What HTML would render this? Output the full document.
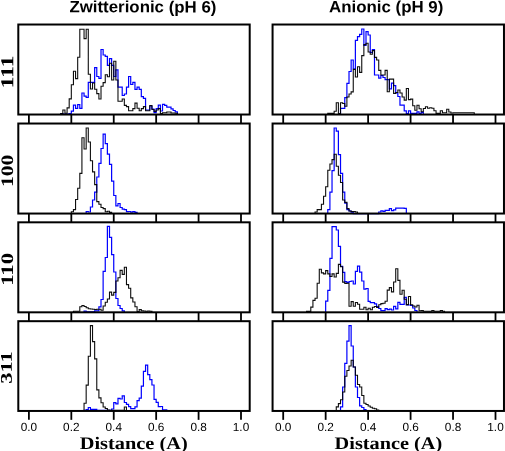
<!DOCTYPE html>
<html><head><meta charset="utf-8"><style>
html,body{margin:0;padding:0;background:#fff;}
body{width:505px;height:451px;overflow:hidden;position:relative;}
svg{position:absolute;left:0;top:0;will-change:transform;}
.tl{font-family:"Liberation Sans",sans-serif;font-size:11.8px;text-anchor:middle;fill:#000;}
.ttl{font-family:"Liberation Sans",sans-serif;font-weight:bold;font-size:16.4px;fill:#000;}
.xl{font-family:"Liberation Serif",serif;font-weight:bold;font-size:17.7px;fill:#000;}
.yl{font-family:"Liberation Serif",serif;font-weight:bold;font-size:18px;fill:#000;}
</style></head><body>
<svg width="505" height="451" viewBox="0 0 505 451">
<path d="M60.72 114.52 L60.72 113.5 L62.84 113.5 L62.84 114 L64.96 114 L64.96 114 L67.08 114 L67.08 114 L69.2 114 L69.2 113.5 L71.32 113.5 L71.32 111.1 L73.44 111.1 L73.44 105.2 L75.56 105.2 L75.56 108.4 L77.68 108.4 L77.68 104.7 L79.8 104.7 L79.8 108.4 L81.92 108.4 L81.92 93 L84.05 93 L84.05 96.2 L86.17 96.2 L86.17 97.3 L88.29 97.3 L88.29 82.4 L90.41 82.4 L90.41 82.4 L92.53 82.4 L92.53 82.4 L94.65 82.4 L94.65 67.6 L96.77 67.6 L96.77 76.5 L98.89 76.5 L98.89 78.3 L101.01 78.3 L101.01 49.5 L103.14 49.5 L103.13 55 L105.26 55 L105.26 56.3 L107.38 56.3 L107.38 65.3 L109.5 65.3 L109.5 58.6 L111.62 58.6 L111.62 65.3 L113.74 65.3 L113.74 76.5 L115.86 76.5 L115.86 69.8 L117.98 69.8 L117.98 87.1 L120.1 87.1 L120.1 87.1 L122.22 87.1 L122.22 95.5 L124.34 95.5 L124.34 94 L126.47 94 L126.47 87.1 L128.59 87.1 L128.59 76.5 L130.71 76.5 L130.71 84.5 L132.83 84.5 L132.83 82.4 L134.95 82.4 L134.95 89.3 L137.07 89.3 L137.07 87.1 L139.19 87.1 L139.19 89.3 L141.31 89.3 L141.31 96.7 L143.43 96.7 L143.43 98.3 L145.56 98.3 L145.56 110 L147.68 110 L147.68 110 L149.8 110 L149.8 106 L151.92 106 L151.92 109 L154.04 109 L154.04 112.7 L156.16 112.7 L156.16 108.6 L158.28 108.6 L158.28 105.1 L160.4 105.1 L160.4 111 L162.52 111 L162.52 104.4 L164.64 104.4 L164.64 105.4 L166.77 105.4 L166.77 107.2 L168.89 107.2 L168.89 107.2 L171.01 107.2 L171.01 108.8 L173.13 108.8 L173.13 110.5 L175.25 110.5 L175.25 111.9 L177.37 111.9 L177.37 114.52" fill="none" stroke="#0000ff" stroke-width="1.2" stroke-opacity="1.0"/>
<path d="M86.17 213.54 L86.17 211.5 L88.29 211.5 L88.29 212 L90.41 212 L90.41 207 L92.53 207 L92.53 200 L94.65 200 L94.65 192.1 L96.77 192.1 L96.77 177 L98.89 177 L98.89 163.3 L101.01 163.3 L101.01 148.5 L103.14 148.5 L103.13 134.2 L105.26 134.2 L105.26 143.6 L107.38 143.6 L107.38 154.1 L109.5 154.1 L109.5 164.3 L111.62 164.3 L111.62 181.2 L113.74 181.2 L113.74 195.5 L115.86 195.5 L115.86 205.9 L117.98 205.9 L117.98 203.5 L120.1 203.5 L120.1 207.5 L122.22 207.5 L122.22 209.1 L124.34 209.1 L124.34 209.6 L126.47 209.6 L126.47 211.7 L128.59 211.7 L128.59 211.5 L130.71 211.5 L130.71 212.2 L132.83 212.2 L132.83 211.7 L134.95 211.7 L134.95 212.3 L137.07 212.3 L137.07 213.54" fill="none" stroke="#0000ff" stroke-width="1.2" stroke-opacity="1.0"/>
<path d="M84.05 312.32 L84.05 311.2 L86.17 311.2 L86.17 311.8 L88.29 311.8 L88.29 311.8 L90.41 311.8 L90.41 311.8 L92.53 311.8 L92.53 311.8 L94.65 311.8 L94.65 310.9 L96.77 310.9 L96.77 310.9 L98.89 310.9 L98.89 306.8 L101.01 306.8 L101.01 299.5 L103.14 299.5 L103.13 271.4 L105.26 271.4 L105.26 257.5 L107.38 257.5 L107.38 226.3 L109.5 226.3 L109.5 237.3 L111.62 237.3 L111.62 254.7 L113.74 254.7 L113.74 272 L115.86 272 L115.86 298.5 L117.98 298.5 L117.98 305.5 L120.1 305.5 L120.1 308.5 L122.22 308.5 L122.22 310.9 L124.34 310.9 L124.34 312.32" fill="none" stroke="#0000ff" stroke-width="1.2" stroke-opacity="1.0"/>
<path d="M84.05 410.95 L84.05 410.4 L86.17 410.4 L86.17 409.5 L88.29 409.5 L88.29 407.5 L90.41 407.5 L90.41 409.4 L92.53 409.4 L92.53 409.4 L94.65 409.4 L94.65 409.4 L96.77 409.4 L96.77 410.4 L98.89 410.4 L98.89 410.4 L101.01 410.4 L101.01 410.4 L103.14 410.4 L103.13 410.4 L105.26 410.4 L105.26 410.4 L107.38 410.4 L107.38 410.4 L109.5 410.4 L109.5 410.4 L111.62 410.4 L111.62 409 L113.74 409 L113.74 402.7 L115.86 402.7 L115.86 403.8 L117.98 403.8 L117.98 398.4 L120.1 398.4 L120.1 399 L122.22 399 L122.22 395.8 L124.34 395.8 L124.34 402.5 L126.47 402.5 L126.47 404.3 L128.59 404.3 L128.59 406.6 L130.71 406.6 L130.71 408.6 L132.83 408.6 L132.83 408.6 L134.95 408.6 L134.95 406.8 L137.07 406.8 L137.07 400.6 L139.19 400.6 L139.19 398.2 L141.31 398.2 L141.31 386.1 L143.43 386.1 L143.43 371.3 L145.56 371.3 L145.56 365.2 L147.68 365.2 L147.68 374.7 L149.8 374.7 L149.8 379.7 L151.92 379.7 L151.92 385 L154.04 385 L154.04 399.3 L156.16 399.3 L156.16 402.4 L158.28 402.4 L158.28 406.7 L160.4 406.7 L160.4 406.5 L162.52 406.5 L162.52 409.9 L164.64 409.9 L164.64 409.9 L166.77 409.9 L166.77 410.95" fill="none" stroke="#0000ff" stroke-width="1.2" stroke-opacity="1.0"/>
<path d="M340.52 114.52 L340.52 108.3 L342.64 108.3 L342.64 108.3 L344.77 108.3 L344.77 97.6 L346.89 97.6 L346.89 83.3 L349.01 83.3 L349.01 71.5 L351.14 71.5 L351.14 60 L353.26 60 L353.26 69 L355.38 69 L355.38 40.3 L357.5 40.3 L357.5 36.7 L359.63 36.7 L359.63 34.3 L361.75 34.3 L361.75 29 L363.87 29 L363.87 45.3 L366 45.3 L366 31.7 L368.12 31.7 L368.12 35 L370.24 35 L370.24 52.5 L372.37 52.5 L372.37 49.6 L374.49 49.6 L374.49 75 L376.61 75 L376.61 75 L378.73 75 L378.74 78.1 L380.86 78.1 L380.86 75.5 L382.98 75.5 L382.98 77.5 L385.1 77.5 L385.1 79.6 L387.23 79.6 L387.23 79.6 L389.35 79.6 L389.35 88.8 L391.47 88.8 L391.47 83.2 L393.6 83.2 L393.6 85.7 L395.72 85.7 L395.72 93 L397.84 93 L397.84 96.5 L399.96 96.5 L399.97 105.2 L402.09 105.2 L402.09 105.2 L404.21 105.2 L404.21 110.8 L406.33 110.8 L406.33 113.5 L408.46 113.5 L408.46 110.8 L410.58 110.8 L410.58 113.4 L412.7 113.4 L412.7 113.4 L414.83 113.4 L414.83 113.4 L416.95 113.4 L416.95 111.8 L419.07 111.8 L419.07 113.6 L421.19 113.6 L421.19 112.3 L423.32 112.3 L423.32 114.52" fill="none" stroke="#0000ff" stroke-width="1.2" stroke-opacity="1.0"/>
<path d="M327.78 213.54 L327.78 209.6 L329.91 209.6 L329.91 192.1 L332.03 192.1 L332.03 170.6 L334.15 170.6 L334.15 128 L336.27 128 L336.27 131.2 L338.4 131.2 L338.4 154.7 L340.52 154.7 L340.52 173.3 L342.64 173.3 L342.64 192.1 L344.77 192.1 L344.77 203.2 L346.89 203.2 L346.89 209.6 L349.01 209.6 L349.01 211 L351.14 211 L351.14 212.2 L353.26 212.2 L353.26 213.54 L355.38 213.54 L355.38 213.54 L357.5 213.54 L357.5 213.54 L359.63 213.54 L359.63 213.54 L361.75 213.54 L361.75 213.54 L363.87 213.54 L363.87 213.54 L366 213.54 L366 213.54 L368.12 213.54 L368.12 213.54 L370.24 213.54 L370.24 213.54 L372.37 213.54 L372.37 213.54 L374.49 213.54 L374.49 213.54 L376.61 213.54 L376.61 213.54 L378.73 213.54 L378.74 212 L380.86 212 L380.86 210.9 L382.98 210.9 L382.98 211.3 L385.1 211.3 L385.1 210.4 L387.23 210.4 L387.23 210.4 L389.35 210.4 L389.35 208.6 L391.47 208.6 L391.47 210.6 L393.6 210.6 L393.6 209.8 L395.72 209.8 L395.72 208.2 L397.84 208.2 L397.84 208.2 L399.96 208.2 L399.97 208.2 L402.09 208.2 L402.09 208.2 L404.21 208.2 L404.21 208.3 L406.33 208.3 L406.33 213.54" fill="none" stroke="#0000ff" stroke-width="1.2" stroke-opacity="1.0"/>
<path d="M325.66 312.32 L325.66 301.2 L327.78 301.2 L327.78 290.3 L329.91 290.3 L329.91 258.4 L332.03 258.4 L332.03 226.6 L334.15 226.6 L334.15 226.6 L336.27 226.6 L336.27 230 L338.4 230 L338.4 246.3 L340.52 246.3 L340.52 266.3 L342.64 266.3 L342.64 272.4 L344.77 272.4 L344.77 281.6 L346.89 281.6 L346.89 282.5 L349.01 282.5 L349.01 281.5 L351.14 281.5 L351.14 281 L353.26 281 L353.26 284 L355.38 284 L355.38 271.3 L357.5 271.3 L357.5 266.2 L359.63 266.2 L359.63 272.1 L361.75 272.1 L361.75 281 L363.87 281 L363.87 289.2 L366 289.2 L366 288.5 L368.12 288.5 L368.12 301.3 L370.24 301.3 L370.24 302.6 L372.37 302.6 L372.37 302.6 L374.49 302.6 L374.49 303.8 L376.61 303.8 L376.61 306.7 L378.73 306.7 L378.74 308.5 L380.86 308.5 L380.86 310.7 L382.98 310.7 L382.98 310.7 L385.1 310.7 L385.1 308.7 L387.23 308.7 L387.23 309.7 L389.35 309.7 L389.35 309.2 L391.47 309.2 L391.47 310 L393.6 310 L393.6 306.3 L395.72 306.3 L395.72 308.8 L397.84 308.8 L397.84 302.3 L399.96 302.3 L399.97 304.3 L402.09 304.3 L402.09 304.3 L404.21 304.3 L404.21 297.4 L406.33 297.4 L406.33 304.8 L408.46 304.8 L408.46 305 L410.58 305 L410.58 305.5 L412.7 305.5 L412.7 308 L414.83 308 L414.83 310.5 L416.95 310.5 L416.95 312.32" fill="none" stroke="#0000ff" stroke-width="1.2" stroke-opacity="1.0"/>
<path d="M340.52 410.95 L340.52 406.9 L342.64 406.9 L342.64 387 L344.77 387 L344.77 363.3 L346.89 363.3 L346.89 341.2 L349.01 341.2 L349.01 325.6 L351.14 325.6 L351.14 346 L353.26 346 L353.26 367 L355.38 367 L355.38 387 L357.5 387 L357.5 397.5 L359.63 397.5 L359.63 405.8 L361.75 405.8 L361.75 407.5 L363.87 407.5 L363.87 409.5 L366 409.5 L366 410.95" fill="none" stroke="#0000ff" stroke-width="1.2" stroke-opacity="1.0"/>
<path d="M60.72 114.52 L60.72 113.5 L62.84 113.5 L62.84 110 L64.96 110 L64.96 113.2 L67.08 113.2 L67.08 107.9 L69.2 107.9 L69.2 98.9 L71.32 98.9 L71.32 84.8 L73.44 84.8 L73.44 71.2 L75.56 71.2 L75.56 78.6 L77.68 78.6 L77.68 57.2 L79.8 57.2 L79.8 29.3 L81.92 29.3 L81.92 29.3 L84.05 29.3 L84.05 38.6 L86.17 38.6 L86.17 29.3 L88.29 29.3 L88.29 74.3 L90.41 74.3 L90.41 89 L92.53 89 L92.53 83 L94.65 83 L94.65 89.3 L96.77 89.3 L96.77 93.6 L98.89 93.6 L98.89 99 L101.01 99 L101.01 86.3 L103.14 86.3 L103.13 82.6 L105.26 82.6 L105.26 74.7 L107.38 74.7 L107.38 76.7 L109.5 76.7 L109.5 63.3 L111.62 63.3 L111.62 80 L113.74 80 L113.74 61.2 L115.86 61.2 L115.86 80 L117.98 80 L117.98 101.3 L120.1 101.3 L120.1 101.3 L122.22 101.3 L122.22 99 L124.34 99 L124.34 105.4 L126.47 105.4 L126.47 106.6 L128.59 106.6 L128.59 110.7 L130.71 110.7 L130.71 110.7 L132.83 110.7 L132.83 108.6 L134.95 108.6 L134.95 103.1 L137.07 103.1 L137.07 108.3 L139.19 108.3 L139.19 110.7 L141.31 110.7 L141.31 108.6 L143.43 108.6 L143.43 106.6 L145.56 106.6 L145.56 110.7 L147.68 110.7 L147.68 110.7 L149.8 110.7 L149.8 105.5 L151.92 105.5 L151.92 109.5 L154.04 109.5 L154.04 111.4 L156.16 111.4 L156.16 110 L158.28 110 L158.28 108.6 L160.4 108.6 L160.4 113.5 L162.52 113.5 L162.52 112.7 L164.64 112.7 L164.64 112.7 L166.77 112.7 L166.77 112 L168.89 112 L168.89 112 L171.01 112 L171.01 113 L173.13 113 L173.13 113 L175.25 113 L175.25 113.2 L177.37 113.2 L177.37 114.52" fill="none" stroke="#000" stroke-width="1.1" stroke-opacity="0.95"/>
<path d="M71.32 213.54 L71.32 211.7 L73.44 211.7 L73.44 209.6 L75.56 209.6 L75.56 199.5 L77.68 199.5 L77.68 188.3 L79.8 188.3 L79.8 173.4 L81.92 173.4 L81.92 137.8 L84.05 137.8 L84.05 149 L86.17 149 L86.17 128 L88.29 128 L88.29 142 L90.41 142 L90.41 160.8 L92.53 160.8 L92.53 171.9 L94.65 171.9 L94.65 184.6 L96.77 184.6 L96.77 201.6 L98.89 201.6 L98.89 204.3 L101.01 204.3 L101.01 207.5 L103.14 207.5 L103.13 208.6 L105.26 208.6 L105.26 211.8 L107.38 211.8 L107.38 211.2 L109.5 211.2 L109.5 212.4 L111.62 212.4 L111.62 213.54" fill="none" stroke="#000" stroke-width="1.1" stroke-opacity="0.95"/>
<path d="M73.44 312.32 L73.44 311.3 L75.56 311.3 L75.56 311.3 L77.68 311.3 L77.68 311.3 L79.8 311.3 L79.8 306.7 L81.92 306.7 L81.92 305.5 L84.05 305.5 L84.05 306.5 L86.17 306.5 L86.17 307.7 L88.29 307.7 L88.29 308.7 L90.41 308.7 L90.41 309 L92.53 309 L92.53 309.3 L94.65 309.3 L94.65 309.5 L96.77 309.5 L96.77 309.3 L98.89 309.3 L98.89 309.3 L101.01 309.3 L101.01 310.2 L103.14 310.2 L103.13 306 L105.26 306 L105.26 302.2 L107.38 302.2 L107.38 299 L109.5 299 L109.5 292.1 L111.62 292.1 L111.62 295.1 L113.74 295.1 L113.74 292.4 L115.86 292.4 L115.86 281 L117.98 281 L117.98 277.8 L120.1 277.8 L120.1 270.4 L122.22 270.4 L122.22 274.4 L124.34 274.4 L124.34 267.2 L126.47 267.2 L126.47 284.6 L128.59 284.6 L128.59 288.3 L130.71 288.3 L130.71 297.9 L132.83 297.9 L132.83 302 L134.95 302 L134.95 306.8 L137.07 306.8 L137.07 311.5 L139.19 311.5 L139.19 309.6 L141.31 309.6 L141.31 310.8 L143.43 310.8 L143.43 311 L145.56 311 L145.56 311.2 L147.68 311.2 L147.68 311 L149.8 311 L149.8 311.3 L151.92 311.3 L151.92 312.32" fill="none" stroke="#000" stroke-width="1.1" stroke-opacity="0.95"/>
<path d="M84.05 410.95 L84.05 403.2 L86.17 403.2 L86.17 385.1 L88.29 385.1 L88.29 356.2 L90.41 356.2 L90.41 325.6 L92.53 325.6 L92.53 341.6 L94.65 341.6 L94.65 358.9 L96.77 358.9 L96.77 389.9 L98.89 389.9 L98.89 397.9 L101.01 397.9 L101.01 402.7 L103.14 402.7 L103.13 407 L105.26 407 L105.26 408.5 L107.38 408.5 L107.38 410 L109.5 410 L109.5 410.3 L111.62 410.3 L111.62 410.4 L113.74 410.4 L113.74 410.4 L115.86 410.4 L115.86 410.4 L117.98 410.4 L117.98 410.4 L120.1 410.4 L120.1 410.4 L122.22 410.4 L122.22 410.4 L124.34 410.4 L124.34 407 L126.47 407 L126.47 410.95" fill="none" stroke="#000" stroke-width="1.1" stroke-opacity="0.95"/>
<path d="M327.78 114.52 L327.78 113.4 L329.91 113.4 L329.91 113.4 L332.03 113.4 L332.03 113.4 L334.15 113.4 L334.15 111.3 L336.27 111.3 L336.27 102.7 L338.4 102.7 L338.4 113.5 L340.52 113.5 L340.52 102.7 L342.64 102.7 L342.64 103.5 L344.77 103.5 L344.77 106.2 L346.89 106.2 L346.89 97 L349.01 97 L349.01 94 L351.14 94 L351.14 91.9 L353.26 91.9 L353.26 69.4 L355.38 69.4 L355.38 77 L357.5 77 L357.5 66.8 L359.63 66.8 L359.63 72.4 L361.75 72.4 L361.75 55.6 L363.87 55.6 L363.87 44.6 L366 44.6 L366 43.3 L368.12 43.3 L368.12 52 L370.24 52 L370.24 54.3 L372.37 54.3 L372.37 50.6 L374.49 50.6 L374.49 57.4 L376.61 57.4 L376.61 60 L378.73 60 L378.74 70.4 L380.86 70.4 L380.86 75 L382.98 75 L382.98 75 L385.1 75 L385.1 70.4 L387.23 70.4 L387.23 91.8 L389.35 91.8 L389.35 79.1 L391.47 79.1 L391.47 79.1 L393.6 79.1 L393.6 93.4 L395.72 93.4 L395.72 92.5 L397.84 92.5 L397.84 90 L399.96 90 L399.97 93 L402.09 93 L402.09 97 L404.21 97 L404.21 100.1 L406.33 100.1 L406.33 88.5 L408.46 88.5 L408.46 99.6 L410.58 99.6 L410.58 99.1 L412.7 99.1 L412.7 105.7 L414.83 105.7 L414.83 110.3 L416.95 110.3 L416.95 105.2 L419.07 105.2 L419.07 108.8 L421.19 108.8 L421.19 111.8 L423.32 111.8 L423.32 108.5 L425.44 108.5 L425.44 106.7 L427.56 106.7 L427.56 108.3 L429.69 108.3 L429.69 107.8 L431.81 107.8 L431.81 108.3 L433.93 108.3 L433.93 110.8 L436.06 110.8 L436.06 113.4 L438.18 113.4 L438.18 113.4 L440.3 113.4 L440.3 110.8 L442.43 110.8 L442.43 112.7 L444.55 112.7 L444.55 112.7 L446.67 112.7 L446.67 109.2 L448.79 109.2 L448.79 112 L450.92 112 L450.92 113 L453.04 113 L453.04 112.8 L455.16 112.8 L455.16 112.8 L457.29 112.8 L457.29 112.8 L459.41 112.8 L459.41 112.8 L461.53 112.8 L461.53 112.8 L463.66 112.8 L463.65 112.8 L465.78 112.8 L465.78 112.8 L467.9 112.8 L467.9 112.8 L470.02 112.8 L470.02 112.8 L472.15 112.8 L472.15 112.8 L474.27 112.8 L474.27 114.52" fill="none" stroke="#000" stroke-width="1.1" stroke-opacity="0.95"/>
<path d="M315.05 213.54 L315.05 212 L317.17 212 L317.17 209.6 L319.29 209.6 L319.29 209.6 L321.41 209.6 L321.41 204.3 L323.54 204.3 L323.54 196.3 L325.66 196.3 L325.66 186.7 L327.78 186.7 L327.78 170.3 L329.91 170.3 L329.91 164 L332.03 164 L332.03 159.6 L334.15 159.6 L334.15 154.3 L336.27 154.3 L336.27 166.3 L338.4 166.3 L338.4 175.3 L340.52 175.3 L340.52 182.5 L342.64 182.5 L342.64 200 L344.77 200 L344.77 202.4 L346.89 202.4 L346.89 208.6 L349.01 208.6 L349.01 211 L351.14 211 L351.14 211.5 L353.26 211.5 L353.26 211.5 L355.38 211.5 L355.38 212 L357.5 212 L357.5 213.54" fill="none" stroke="#000" stroke-width="1.1" stroke-opacity="0.95"/>
<path d="M306.55 312.32 L306.55 311.4 L308.68 311.4 L308.68 311.4 L310.8 311.4 L310.8 307.1 L312.92 307.1 L312.92 300.4 L315.04 300.4 L315.05 298.2 L317.17 298.2 L317.17 283.3 L319.29 283.3 L319.29 269.3 L321.41 269.3 L321.41 272.9 L323.54 272.9 L323.54 273.9 L325.66 273.9 L325.66 270.6 L327.78 270.6 L327.78 273.9 L329.91 273.9 L329.91 276.5 L332.03 276.5 L332.03 273.9 L334.15 273.9 L334.15 277 L336.27 277 L336.27 273.4 L338.4 273.4 L338.4 264.4 L340.52 264.4 L340.52 266.8 L342.64 266.8 L342.64 282.1 L344.77 282.1 L344.77 283.4 L346.89 283.4 L346.89 283.3 L349.01 283.3 L349.01 306.2 L351.14 306.2 L351.14 301.6 L353.26 301.6 L353.26 306.2 L355.38 306.2 L355.38 302.5 L357.5 302.5 L357.5 304.3 L359.63 304.3 L359.63 309.2 L361.75 309.2 L361.75 309.2 L363.87 309.2 L363.87 307.2 L366 307.2 L366 309.7 L368.12 309.7 L368.12 308.2 L370.24 308.2 L370.24 309.7 L372.37 309.7 L372.37 307.2 L374.49 307.2 L374.49 306.5 L376.61 306.5 L376.61 307.5 L378.73 307.5 L378.74 304.8 L380.86 304.8 L380.86 303.6 L382.98 303.6 L382.98 303.3 L385.1 303.3 L385.1 301.3 L387.23 301.3 L387.23 290.1 L389.35 290.1 L389.35 287.6 L391.47 287.6 L391.47 291.9 L393.6 291.9 L393.6 282 L395.72 282 L395.72 268.7 L397.84 268.7 L397.84 280.4 L399.96 280.4 L399.97 294.2 L402.09 294.2 L402.09 290.3 L404.21 290.3 L404.21 299.3 L406.33 299.3 L406.33 304.6 L408.46 304.6 L408.46 296.5 L410.58 296.5 L410.58 304.8 L412.7 304.8 L412.7 306 L414.83 306 L414.83 307 L416.95 307 L416.95 305.3 L419.07 305.3 L419.07 310.7 L421.19 310.7 L421.19 310.6 L423.32 310.6 L423.32 311.3 L425.44 311.3 L425.44 311.3 L427.56 311.3 L427.56 311.3 L429.69 311.3 L429.69 311.3 L431.81 311.3 L431.81 310.6 L433.93 310.6 L433.93 311.3 L436.06 311.3 L436.06 311.3 L438.18 311.3 L438.18 311.3 L440.3 311.3 L440.3 310.6 L442.43 310.6 L442.43 311.3 L444.55 311.3 L444.55 312.32" fill="none" stroke="#000" stroke-width="1.1" stroke-opacity="0.95"/>
<path d="M336.27 410.95 L336.27 406.9 L338.4 406.9 L338.4 403.6 L340.52 403.6 L340.52 399.7 L342.64 399.7 L342.64 392 L344.77 392 L344.77 376.2 L346.89 376.2 L346.89 370.5 L349.01 370.5 L349.01 366 L351.14 366 L351.14 360.3 L353.26 360.3 L353.26 367 L355.38 367 L355.38 375.3 L357.5 375.3 L357.5 384.5 L359.63 384.5 L359.63 387 L361.75 387 L361.75 395.5 L363.87 395.5 L363.87 403.3 L366 403.3 L366 404.5 L368.12 404.5 L368.12 406 L370.24 406 L370.24 407.3 L372.37 407.3 L372.37 408.3 L374.49 408.3 L374.49 408.8 L376.61 408.8 L376.61 410 L378.73 410 L378.74 410.95" fill="none" stroke="#000" stroke-width="1.1" stroke-opacity="0.95"/>
<rect x="18.3" y="24.52" width="231.4" height="90" fill="none" stroke="#000" stroke-width="2"/>
<line x1="28.9" y1="114.52" x2="28.9" y2="123.42" stroke="#000" stroke-width="1.8"/>
<line x1="71.32" y1="114.52" x2="71.32" y2="123.42" stroke="#000" stroke-width="1.8"/>
<line x1="113.74" y1="114.52" x2="113.74" y2="123.42" stroke="#000" stroke-width="1.8"/>
<line x1="156.16" y1="114.52" x2="156.16" y2="123.42" stroke="#000" stroke-width="1.8"/>
<line x1="198.58" y1="114.52" x2="198.58" y2="123.42" stroke="#000" stroke-width="1.8"/>
<line x1="241" y1="114.52" x2="241" y2="123.42" stroke="#000" stroke-width="1.8"/>
<rect x="18.3" y="123.52" width="231.4" height="90.02" fill="none" stroke="#000" stroke-width="2"/>
<line x1="28.9" y1="213.54" x2="28.9" y2="222.44" stroke="#000" stroke-width="1.8"/>
<line x1="71.32" y1="213.54" x2="71.32" y2="222.44" stroke="#000" stroke-width="1.8"/>
<line x1="113.74" y1="213.54" x2="113.74" y2="222.44" stroke="#000" stroke-width="1.8"/>
<line x1="156.16" y1="213.54" x2="156.16" y2="222.44" stroke="#000" stroke-width="1.8"/>
<line x1="198.58" y1="213.54" x2="198.58" y2="222.44" stroke="#000" stroke-width="1.8"/>
<line x1="241" y1="213.54" x2="241" y2="222.44" stroke="#000" stroke-width="1.8"/>
<rect x="18.3" y="222.32" width="231.4" height="90" fill="none" stroke="#000" stroke-width="2"/>
<line x1="28.9" y1="312.32" x2="28.9" y2="321.22" stroke="#000" stroke-width="1.8"/>
<line x1="71.32" y1="312.32" x2="71.32" y2="321.22" stroke="#000" stroke-width="1.8"/>
<line x1="113.74" y1="312.32" x2="113.74" y2="321.22" stroke="#000" stroke-width="1.8"/>
<line x1="156.16" y1="312.32" x2="156.16" y2="321.22" stroke="#000" stroke-width="1.8"/>
<line x1="198.58" y1="312.32" x2="198.58" y2="321.22" stroke="#000" stroke-width="1.8"/>
<line x1="241" y1="312.32" x2="241" y2="321.22" stroke="#000" stroke-width="1.8"/>
<rect x="18.3" y="321.19" width="231.4" height="89.76" fill="none" stroke="#000" stroke-width="2"/>
<line x1="28.9" y1="410.95" x2="28.9" y2="419.85" stroke="#000" stroke-width="1.8"/>
<line x1="71.32" y1="410.95" x2="71.32" y2="419.85" stroke="#000" stroke-width="1.8"/>
<line x1="113.74" y1="410.95" x2="113.74" y2="419.85" stroke="#000" stroke-width="1.8"/>
<line x1="156.16" y1="410.95" x2="156.16" y2="419.85" stroke="#000" stroke-width="1.8"/>
<line x1="198.58" y1="410.95" x2="198.58" y2="419.85" stroke="#000" stroke-width="1.8"/>
<line x1="241" y1="410.95" x2="241" y2="419.85" stroke="#000" stroke-width="1.8"/>
<text transform="translate(28.9 430.9) rotate(0.06)" class="tl">0.0</text>
<text transform="translate(71.32 430.9) rotate(0.06)" class="tl">0.2</text>
<text transform="translate(113.74 430.9) rotate(0.06)" class="tl">0.4</text>
<text transform="translate(156.16 430.9) rotate(0.06)" class="tl">0.6</text>
<text transform="translate(198.58 430.9) rotate(0.06)" class="tl">0.8</text>
<text transform="translate(241 430.9) rotate(0.06)" class="tl">1.0</text>
<rect x="272.57" y="24.52" width="231.4" height="90" fill="none" stroke="#000" stroke-width="2"/>
<line x1="283.2" y1="114.52" x2="283.2" y2="123.42" stroke="#000" stroke-width="1.8"/>
<line x1="325.66" y1="114.52" x2="325.66" y2="123.42" stroke="#000" stroke-width="1.8"/>
<line x1="368.12" y1="114.52" x2="368.12" y2="123.42" stroke="#000" stroke-width="1.8"/>
<line x1="410.58" y1="114.52" x2="410.58" y2="123.42" stroke="#000" stroke-width="1.8"/>
<line x1="453.04" y1="114.52" x2="453.04" y2="123.42" stroke="#000" stroke-width="1.8"/>
<line x1="495.5" y1="114.52" x2="495.5" y2="123.42" stroke="#000" stroke-width="1.8"/>
<rect x="272.57" y="123.52" width="231.4" height="90.02" fill="none" stroke="#000" stroke-width="2"/>
<line x1="283.2" y1="213.54" x2="283.2" y2="222.44" stroke="#000" stroke-width="1.8"/>
<line x1="325.66" y1="213.54" x2="325.66" y2="222.44" stroke="#000" stroke-width="1.8"/>
<line x1="368.12" y1="213.54" x2="368.12" y2="222.44" stroke="#000" stroke-width="1.8"/>
<line x1="410.58" y1="213.54" x2="410.58" y2="222.44" stroke="#000" stroke-width="1.8"/>
<line x1="453.04" y1="213.54" x2="453.04" y2="222.44" stroke="#000" stroke-width="1.8"/>
<line x1="495.5" y1="213.54" x2="495.5" y2="222.44" stroke="#000" stroke-width="1.8"/>
<rect x="272.57" y="222.32" width="231.4" height="90" fill="none" stroke="#000" stroke-width="2"/>
<line x1="283.2" y1="312.32" x2="283.2" y2="321.22" stroke="#000" stroke-width="1.8"/>
<line x1="325.66" y1="312.32" x2="325.66" y2="321.22" stroke="#000" stroke-width="1.8"/>
<line x1="368.12" y1="312.32" x2="368.12" y2="321.22" stroke="#000" stroke-width="1.8"/>
<line x1="410.58" y1="312.32" x2="410.58" y2="321.22" stroke="#000" stroke-width="1.8"/>
<line x1="453.04" y1="312.32" x2="453.04" y2="321.22" stroke="#000" stroke-width="1.8"/>
<line x1="495.5" y1="312.32" x2="495.5" y2="321.22" stroke="#000" stroke-width="1.8"/>
<rect x="272.57" y="321.19" width="231.4" height="89.76" fill="none" stroke="#000" stroke-width="2"/>
<line x1="283.2" y1="410.95" x2="283.2" y2="419.85" stroke="#000" stroke-width="1.8"/>
<line x1="325.66" y1="410.95" x2="325.66" y2="419.85" stroke="#000" stroke-width="1.8"/>
<line x1="368.12" y1="410.95" x2="368.12" y2="419.85" stroke="#000" stroke-width="1.8"/>
<line x1="410.58" y1="410.95" x2="410.58" y2="419.85" stroke="#000" stroke-width="1.8"/>
<line x1="453.04" y1="410.95" x2="453.04" y2="419.85" stroke="#000" stroke-width="1.8"/>
<line x1="495.5" y1="410.95" x2="495.5" y2="419.85" stroke="#000" stroke-width="1.8"/>
<text transform="translate(283.2 430.9) rotate(0.06)" class="tl">0.0</text>
<text transform="translate(325.66 430.9) rotate(0.06)" class="tl">0.2</text>
<text transform="translate(368.12 430.9) rotate(0.06)" class="tl">0.4</text>
<text transform="translate(410.58 430.9) rotate(0.06)" class="tl">0.6</text>
<text transform="translate(453.04 430.9) rotate(0.06)" class="tl">0.8</text>
<text transform="translate(495.5 430.9) rotate(0.06)" class="tl">1.0</text>
<text transform="translate(69.39 12.3) rotate(0.05) scale(1.0286 1)" class="ttl">Zwitterionic (pH 6)</text>
<text transform="translate(328.99 12.3) rotate(0.05) scale(1.0296 1)" class="ttl">Anionic (pH 9)</text>
<text transform="translate(79.71 449) rotate(0.03) scale(1.1515 1)" class="xl">Distance (A)</text>
<text transform="translate(334.61 449) rotate(0.03) scale(1.1472 1)" class="xl">Distance (A)</text>
<text transform="translate(13.3 88.58) rotate(-89.9) scale(1.32 1.013)" class="yl">111</text>
<text transform="translate(13.06 187.11) rotate(-89.9) scale(1.204 0.971)" class="yl">100</text>
<text transform="translate(13.06 285.8) rotate(-89.9) scale(1.267 0.971)" class="yl">110</text>
<text transform="translate(11.67 383.74) rotate(-89.9) scale(1.254 0.906)" class="yl">311</text>
</svg>
</body></html>
